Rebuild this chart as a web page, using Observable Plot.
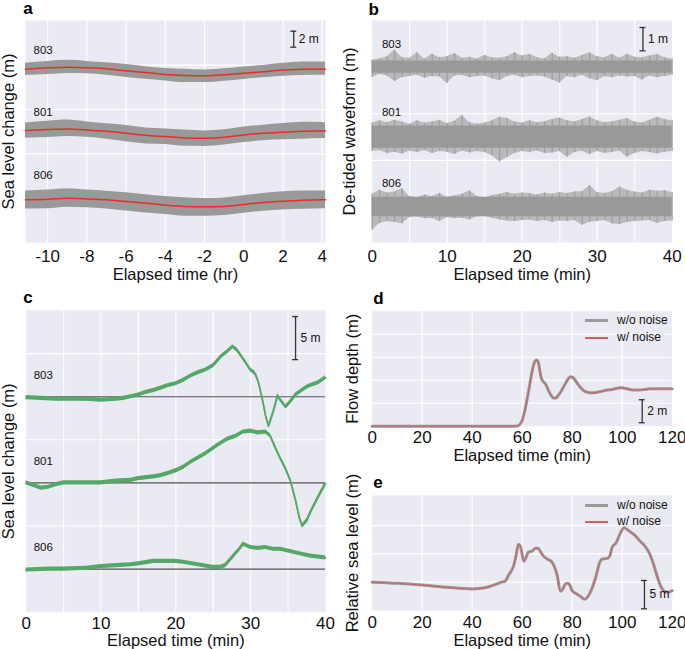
<!DOCTYPE html>
<html><head><meta charset="utf-8">
<script src="https://cdn.jsdelivr.net/npm/d3@7"></script>
<script src="https://cdn.jsdelivr.net/npm/@observablehq/plot@0.6"></script>
<style>
body{margin:0;background:#fff;}
#fig{position:relative;width:685px;height:649px;overflow:hidden;background:#fff;font-family:"Liberation Sans",Arial,Helvetica,sans-serif;}
.lg-line{position:absolute;}
.lg-text{position:absolute;font-size:12px;color:#111;line-height:14px;white-space:nowrap;}
</style></head><body><div id="fig"></div>
<script>
const FONT = '"Liberation Sans", Arial, Helvetica, sans-serif';
const BG = "#EAEAF2";
const stations = ["803", "801", "806"];

// ---------- Panel a: tide (hr) ----------
const tideHours = [-11.13,-10,-9,-8,-7,-6,-5,-4,-3,-2,-1,0,1,2,3,4,4.17];
const tide = {
  "803": [0.29,0.46,0.54,0.46,0.33,0.08,-0.13,-0.38,-0.50,-0.54,-0.42,-0.21,-0.04,0.17,0.29,0.29,0.29],
  "801": [0.42,0.54,0.63,0.50,0.33,0.08,-0.17,-0.33,-0.50,-0.54,-0.42,-0.13,0.08,0.21,0.33,0.38,0.38],
  "806": [0.38,0.46,0.58,0.50,0.38,0.17,-0.04,-0.29,-0.46,-0.50,-0.46,-0.21,0.04,0.21,0.33,0.38,0.38]
};
const tideOffset = {"803": 21.41, "801": 13.59, "806": 4.96};
const noiseUpA = {
  "803": [0.75,0.80,0.85,0.80,0.75,0.78,0.72,0.75,0.78,0.72,0.75,0.78,0.80,0.85,0.90,0.88,0.85],
  "801": [0.95,1.05,1.10,1.00,0.95,0.98,0.92,0.95,0.98,0.92,0.95,1.00,1.02,1.10,1.12,1.05,1.00],
  "806": [1.10,1.15,1.20,1.12,1.08,1.10,1.05,1.08,1.10,1.05,1.08,1.10,1.12,1.18,1.15,1.10,1.10]
};
const noiseLoA = {
  "803": [0.80,0.85,0.78,0.75,0.80,0.82,0.85,0.80,0.88,0.85,0.80,0.78,0.75,0.78,0.80,0.75,0.75],
  "801": [0.95,1.00,0.95,0.92,0.98,1.05,1.08,1.00,1.05,1.02,0.98,0.95,0.92,0.95,0.98,0.95,0.95],
  "806": [1.15,1.20,1.12,1.10,1.15,1.20,1.22,1.15,1.20,1.18,1.12,1.10,1.08,1.10,1.12,1.10,1.10]
};
const labelYA = {"803": 24.04, "801": 16.3, "806": 8.4};
const ticksA = [-10,-8,-6,-4,-2,0,2,4];
const gridYA = [5.55, 11.1, 16.65, 22.2];
const scaleA = {x: 2.55, y1: 24.45, y2: 26.45, label: "2 m"};

// ---------- Panel b: de-tided waveform (min) ----------
const bMinutes = [0,1,2,3,4,5,6,7,8,9,10,11,12,13,14,15,16,17,18,19,20,21,22,23,24,25,26,27,28,29,30,31,32,33,34,35,36,37,38,39,40];
const bCenter = {"803": 6, "801": 3, "806": 0};
const bCore = {"803": 0.26, "801": 0.48, "806": 0.42};
const bHi = {
  "803": [0.30,0.35,0.45,0.72,0.40,0.38,0.62,0.35,0.55,0.40,0.45,0.58,0.38,0.42,0.35,0.50,0.40,0.38,0.45,0.62,0.48,0.55,0.40,0.35,0.60,0.42,0.45,0.38,0.50,0.62,0.45,0.40,0.55,0.38,0.55,0.42,0.40,0.48,0.55,0.40,0.35],
  "801": [0.60,0.70,0.62,0.72,0.65,0.55,0.70,0.60,0.65,0.72,0.58,0.68,0.92,0.62,0.55,0.60,0.70,0.85,0.80,0.65,0.60,0.70,0.62,0.66,0.75,0.82,0.70,0.65,0.75,0.86,0.70,0.62,0.66,0.72,0.80,0.65,0.60,0.72,0.85,0.75,0.70],
  "806": [0.55,0.72,0.60,0.65,0.79,0.45,0.40,0.52,0.45,0.58,0.42,0.48,0.55,0.70,0.45,0.40,0.50,0.55,0.62,0.55,0.60,0.58,0.52,0.60,0.55,0.62,0.58,0.65,0.66,0.92,0.62,0.58,0.66,0.86,0.72,0.65,0.60,0.72,0.68,0.70,0.62]
};
const bLo = {
  "803": [-0.45,-0.30,-0.38,-0.62,-0.45,-0.40,-0.35,-0.48,-0.40,-0.42,-0.70,-0.38,-0.35,-0.45,-0.40,-0.38,-0.50,-0.58,-0.40,-0.35,-0.45,-0.40,-0.38,-0.42,-0.55,-0.68,-0.40,-0.45,-0.35,-0.50,-0.58,-0.40,-0.45,-0.38,-0.42,-0.40,-0.55,-0.38,-0.45,-0.40,-0.35],
  "801": [-0.62,-0.58,-0.70,-0.65,-0.72,-0.60,-0.66,-0.58,-0.70,-0.62,-0.65,-0.75,-0.60,-0.68,-0.62,-0.66,-0.80,-1.07,-0.88,-0.70,-0.62,-0.66,-0.60,-0.70,-0.68,-0.62,-0.86,-0.66,-0.60,-0.75,-0.62,-0.70,-0.66,-0.60,-0.86,-0.70,-0.62,-0.66,-0.72,-0.65,-0.62],
  "806": [-1.00,-0.70,-0.62,-0.66,-0.72,-0.45,-0.42,-0.50,-0.48,-0.62,-0.45,-0.50,-0.48,-0.55,-0.42,-0.40,-0.48,-0.55,-0.60,-0.62,-0.58,-0.55,-0.62,-0.58,-0.66,-0.60,-0.62,-0.58,-0.78,-0.66,-0.62,-0.58,-0.72,-0.75,-0.66,-0.62,-0.60,-0.58,-0.70,-0.62,-0.60]
};
const labelYB = {"803": 7.0, "801": 4.07, "806": 1.0};
const ticksB = [0,10,20,30,40];
const gridXB = [5,10,15,20,25,30,35];
const gridYB = [0,2,4,6];
const scaleB = {x: 36.1, y1: 6.7, y2: 7.7, label: "1 m"};

// ---------- Panel c: sea level change (min) ----------
const c803t = [0,2,4,6,8,10,12,13,14,15,16,17,18,19,20,21,22,23,24,25,26,27,27.6,28.2,29,30,30.6,31,31.5,32,32.4,33,33.6,34,34.7,35.5,36,37,37.5,38,39,40];
const c803v = [-0.1,-0.2,-0.3,-0.3,-0.3,-0.4,-0.3,-0.2,0,0.2,0.5,0.7,1.0,1.3,1.5,1.9,2.4,2.8,3.1,3.6,4.6,5.3,5.8,5.4,4.4,3.1,2.7,1.8,0.0,-2.2,-3.4,-1.8,0.1,-0.4,-1.2,-0.4,0.2,0.8,1.1,1.3,1.6,2.2];
const c801t = [0,1,2,3,4,5,7,10,12,14,15,17,18,19,20,21,22,23,24,25,26,27,28,29,30,31,32,32.6,33.3,34,34.7,35.3,36,36.5,36.9,37.5,38,39,39.5,40];
const c801v = [0,-0.3,-0.6,-0.5,-0.2,0,0,0,0.2,0.3,0.5,0.7,0.85,1.1,1.4,1.8,2.4,2.9,3.4,4.0,4.6,5.1,5.4,5.9,6.0,5.8,5.9,5.5,4.1,2.8,1.6,0.3,-2.0,-4.0,-5.0,-4.4,-3.4,-1.7,-0.9,-0.1];
const c806t = [0,3,5,8,10,12,14,15,17,19,20,21,23,25,26,26.6,27.5,28.5,29,30,31,32,33,34,35,36,37,38,39,40];
const c806v = [-0.1,0,0,0.1,0.3,0.4,0.5,0.6,0.9,0.9,0.9,0.8,0.5,0.2,0.2,0.4,1.3,2.3,2.9,2.5,2.4,2.5,2.3,2.3,2.1,1.9,1.7,1.5,1.4,1.3];
const cBase = {"803": 20, "801": 10, "806": 0};
const cLabelAbove = 2.5;
const gridYC = [5,15,25];
const scaleC = {x: 36.0, y1: 24.3, y2: 29.3, label: "5 m"};

// ---------- Panel d: flow depth (min) ----------
const dT = [0,55,58,59,60,61,62,63,64,65,65.8,66.5,67,67.5,68,68.8,69.5,70.5,71.5,72.5,73.5,74.5,76,77.5,78.5,79.5,80.5,81.5,83,84.5,86,88,90,92,94,96,98,99.5,101,103,105,107,109,111,113,115,117,120];
const dV = [0,0,0.02,0.15,0.5,1.3,2.4,3.6,4.8,5.6,5.75,5.5,4.9,4.3,4.0,3.8,3.6,3.1,2.7,2.45,2.45,2.7,3.2,3.8,4.15,4.3,4.2,3.9,3.45,3.1,2.95,2.9,2.95,3.05,3.15,3.2,3.3,3.35,3.3,3.2,3.15,3.15,3.2,3.25,3.25,3.25,3.25,3.25];
const ticks120 = [0,20,40,60,80,100,120];
const gridX120 = [20,40,60,80,100];
const gridYD = [2,4,6,8];
const scaleD = {x: 108, y1: 0.3, y2: 2.3, label: "2 m"};

// ---------- Panel e: relative sea level (min) ----------
const eT = [0,10,20,30,40,45,48,50,52,53,54.5,55.5,56.5,57.5,58.5,59.3,60,60.7,61.5,62.5,64,65.3,66.3,67.3,68.5,70,72,73,74,75.3,76.3,77,78,79,80,81.5,83.3,85,86.5,88,89.5,91,92,94,95,96,97.5,99,100.7,102,103.5,105,107,109,111,112.5,114,115.5,116.5,118,120];
const eV = [0,-0.2,-0.5,-0.9,-1.2,-1.0,-0.6,-0.3,0.05,0.1,1.2,1.9,2.8,4.6,6.7,6.3,4.8,3.7,4.3,5.3,5.5,6.0,6.0,5.4,4.6,4.1,3.5,2.6,1.2,-1.6,-1.2,-0.5,-0.2,-0.5,-1.5,-2.0,-2.5,-3.0,-2.4,-1.0,1.0,3.5,4.1,4.2,4.6,6.2,6.9,8.4,9.6,9.3,8.8,8.3,7.3,6.4,5.0,3.2,1.0,-0.8,-1.5,-1.8,-1.5];
const gridYE = [0,5,10];
const scaleE = {x: 108.9, y1: -4.7, y2: 0.3, label: "5 m"};

const legendLabels = ["w/o noise", "w/ noise"];

// ---------- helpers ----------
const fig = document.getElementById("fig");
const INK = "#111";
const GRAY = "#999999";
const RED = "#ee2a24";
const GREEN = "#55a868";
const PINK = "#d0606a";

function scaleBarMarks(bar, xDomain, innerW) {
  const cap = 3 * (xDomain[1] - xDomain[0]) / innerW;
  const o = {stroke: "#333", strokeWidth: 1.3};
  return [
    Plot.ruleX([bar], {x: "x", y1: "y1", y2: "y2", ...o}),
    Plot.ruleY([bar], {y: "y1", x1: d => d.x - cap, x2: d => d.x + cap, ...o}),
    Plot.ruleY([bar], {y: "y2", x1: d => d.x - cap, x2: d => d.x + cap, ...o}),
    Plot.text([bar], {x: "x", y: d => (d.y1 + d.y2) / 2, text: "label", dx: 5, textAnchor: "start", lineAnchor: "middle", fontSize: 12, fill: INK})
  ];
}

function panel(o) {
  const [mt, mr, mb, ml] = o.margins;
  const innerW = o.width - ml - mr;
  const svg = Plot.plot({
    width: o.width, height: o.height,
    marginTop: mt, marginRight: mr, marginBottom: mb, marginLeft: ml,
    style: {background: "transparent", overflow: "visible", fontFamily: FONT, fontSize: "17px", color: INK},
    x: {domain: o.xDomain, ticks: o.xTicks, tickSize: 0, tickPadding: o.tickPad, label: null, tickFormat: d => String(d)},
    y: {domain: o.yDomain, axis: null},
    marks: [
      Plot.frame({fill: BG, stroke: "none"}),
      Plot.ruleX(o.xGrid, {stroke: "white", strokeWidth: 1.1}),
      Plot.ruleY(o.yGrid, {stroke: "white", strokeWidth: 1.1}),
      ...o.marks,
      ...scaleBarMarks(o.bar, o.xDomain, innerW),
      Plot.text([o.xTitle], {frameAnchor: "bottom", textAnchor: "middle", lineAnchor: "middle", dy: o.titleDy, fontSize: 16.5, text: d => d, fill: INK}),
      Plot.text([o.yTitle], {frameAnchor: "left", textAnchor: "middle", lineAnchor: "middle", rotate: -90, dx: o.yTitleDx, fontSize: 16.5, text: d => d, fill: INK}),
      Plot.text([o.letter], {frameAnchor: "top-left", textAnchor: "start", lineAnchor: "bottom", dx: o.letterDx, dy: o.letterDy, fontSize: 17, fontWeight: "bold", text: d => d, fill: "#000"})
    ]
  });
  svg.style.position = "absolute";
  svg.style.left = o.left + "px";
  svg.style.top = o.top + "px";
  fig.appendChild(svg);
}

// ---------- build rows ----------
const rowsA = [];
for (const s of stations) {
  tideHours.forEach((t, i) => {
    const c = tideOffset[s] + tide[s][i];
    rowsA.push({station: s, t, tide: c, lo: c - noiseLoA[s][i], hi: c + noiseUpA[s][i]});
  });
}
const labelsA = stations.map(s => ({station: s, y: labelYA[s]}));

const rowsB = [];
for (const s of stations) {
  bMinutes.forEach((t, i) => rowsB.push({station: s, t, lo: bCenter[s] + bLo[s][i], hi: bCenter[s] + bHi[s][i],
    c1: bCenter[s] - bCore[s], c2: bCenter[s] + bCore[s]}));
}
const labelsB = stations.map(s => ({station: s, y: labelYB[s]}));

const cSeries = {"803": [c803t, c803v], "801": [c801t, c801v], "806": [c806t, c806v]};
const rowsC = [];
for (const s of stations) {
  const [ts, vs] = cSeries[s];
  ts.forEach((t, i) => rowsC.push({station: s, t, v: cBase[s] + vs[i]}));
}
const labelsC = stations.map(s => ({station: s, y: cBase[s] + cLabelAbove}));
const baseC = stations.map(s => cBase[s]);

const rowsD = dT.map((t, i) => ({t, v: dV[i]}));
const rowsE = eT.map((t, i) => ({t, v: eV[i]}));

// ---------- panels ----------
panel({
  left: 0, top: 0, width: 340, height: 284, margins: [20, 15, 42, 25],
  xDomain: [-11.13, 4.17], yDomain: [0, 27.79], xTicks: ticksA, xGrid: ticksA, yGrid: gridYA,
  tickPad: 7.5, titleDy: 32, xTitle: "Elapsed time (hr)", yTitle: "Sea level change (m)", yTitleDx: -17,
  letter: "a", letterDx: -2.3, letterDy: -6.5, bar: scaleA,
  marks: [
    Plot.areaY(rowsA, {x: "t", y1: "lo", y2: "hi", z: "station", fill: GRAY, curve: "monotone-x"}),
    Plot.line(rowsA, {x: "t", y: "tide", z: "station", stroke: RED, strokeWidth: 1.5, curve: "monotone-x"}),
    Plot.text(labelsA, {x: -10.72, y: "y", text: "station", textAnchor: "start", lineAnchor: "middle", fontSize: 11.5, fill: INK})
  ]
});

panel({
  left: 340, top: 0, width: 345, height: 284, margins: [20, 13.3, 42, 31.7],
  xDomain: [0, 40], yDomain: [-1.52, 8.0], xTicks: ticksB, xGrid: gridXB, yGrid: gridYB,
  tickPad: 7.5, titleDy: 32, xTitle: "Elapsed time (min)", yTitle: "De-tided waveform (m)", yTitleDx: -22.7,
  letter: "b", letterDx: -3.7, letterDy: -5.5, bar: scaleB,
  marks: [
    Plot.areaY(rowsB, {x: "t", y1: "lo", y2: "hi", z: "station", fill: GRAY, fillOpacity: 0.6}),
    Plot.areaY(rowsB, {x: "t", y1: "c1", y2: "c2", z: "station", fill: GRAY}),
    Plot.ruleX(rowsB, {x: "t", y1: "lo", y2: "hi", stroke: GRAY, strokeWidth: 1}),
    Plot.text(labelsB, {x: 1.3, y: "y", text: "station", textAnchor: "start", lineAnchor: "middle", fontSize: 11.5, fill: INK})
  ]
});

panel({
  left: 0, top: 290, width: 340, height: 359, margins: [20, 15, 37.3, 25.7],
  xDomain: [0, 40], yDomain: [-5, 30], xTicks: ticksB, xGrid: gridXB, yGrid: gridYC,
  tickPad: 4.8, titleDy: 28.7, xTitle: "Elapsed time (min)", yTitle: "Sea level change (m)", yTitleDx: -17.7,
  letter: "c", letterDx: -3, letterDy: -7.3, bar: scaleC,
  marks: [
    Plot.ruleY(baseC, {stroke: "#555", strokeWidth: 1.1}),
    Plot.areaY(rowsC, {x: "t", y1: d => d.v - 0.24, y2: d => d.v + 0.24, z: "station", fill: GREEN}),
    Plot.line(rowsC, {x: "t", y: "v", z: "station", stroke: GREEN, strokeWidth: 1.8}),
    Plot.text(labelsC, {x: 1.0, y: "y", text: "station", textAnchor: "start", lineAnchor: "middle", fontSize: 11.5, fill: INK})
  ]
});

panel({
  left: 340, top: 290, width: 345, height: 175, margins: [20.7, 13.3, 39.3, 31.7],
  xDomain: [0, 120], yDomain: [0, 10], xTicks: ticks120, xGrid: gridX120, yGrid: gridYD,
  tickPad: 4.3, titleDy: 29.5, xTitle: "Elapsed time (min)", yTitle: "Flow depth (m)", yTitleDx: -19.2,
  letter: "d", letterDx: 1, letterDy: -7.4, bar: scaleD,
  marks: [
    Plot.line(rowsD, {x: "t", y: "v", stroke: GRAY, strokeWidth: 3, curve: "monotone-x"}),
    Plot.line(rowsD, {x: "t", y: "v", stroke: PINK, strokeWidth: 1, curve: "monotone-x"})
  ]
});

panel({
  left: 340, top: 470, width: 345, height: 179, margins: [25, 13.3, 39, 31.7],
  xDomain: [0, 120], yDomain: [-5, 15.3], xTicks: ticks120, xGrid: gridX120, yGrid: gridYE,
  tickPad: 5.2, titleDy: 30, xTitle: "Elapsed time (min)", yTitle: "Relative sea level (m)", yTitleDx: -19.2,
  letter: "e", letterDx: 1, letterDy: -7.7, bar: scaleE,
  marks: [
    Plot.line(rowsE, {x: "t", y: "v", stroke: GRAY, strokeWidth: 3, curve: "monotone-x"}),
    Plot.line(rowsE, {x: "t", y: "v", stroke: PINK, strokeWidth: 1, curve: "monotone-x"})
  ]
});

// ---------- legends (d, e) ----------
function legend(x0, yGray, yRed) {
  const items = [
    {label: legendLabels[0], y: yGray, color: GRAY, h: 3},
    {label: legendLabels[1], y: yRed, color: PINK, h: 1.5}
  ];
  for (const it of items) {
    const ln = document.createElement("div");
    ln.className = "lg-line";
    ln.style.left = x0 + "px"; ln.style.width = "23px";
    ln.style.top = Math.round(it.y - it.h / 2) + "px"; ln.style.height = it.h + "px";
    ln.style.background = it.color;
    fig.appendChild(ln);
    const tx = document.createElement("div");
    tx.className = "lg-text";
    tx.textContent = it.label;
    tx.style.left = (x0 + 32) + "px"; tx.style.top = (it.y - 7.5) + "px";
    fig.appendChild(tx);
  }
}
legend(585, 320, 337.3);
legend(585, 505, 521.7);
</script></body></html>
